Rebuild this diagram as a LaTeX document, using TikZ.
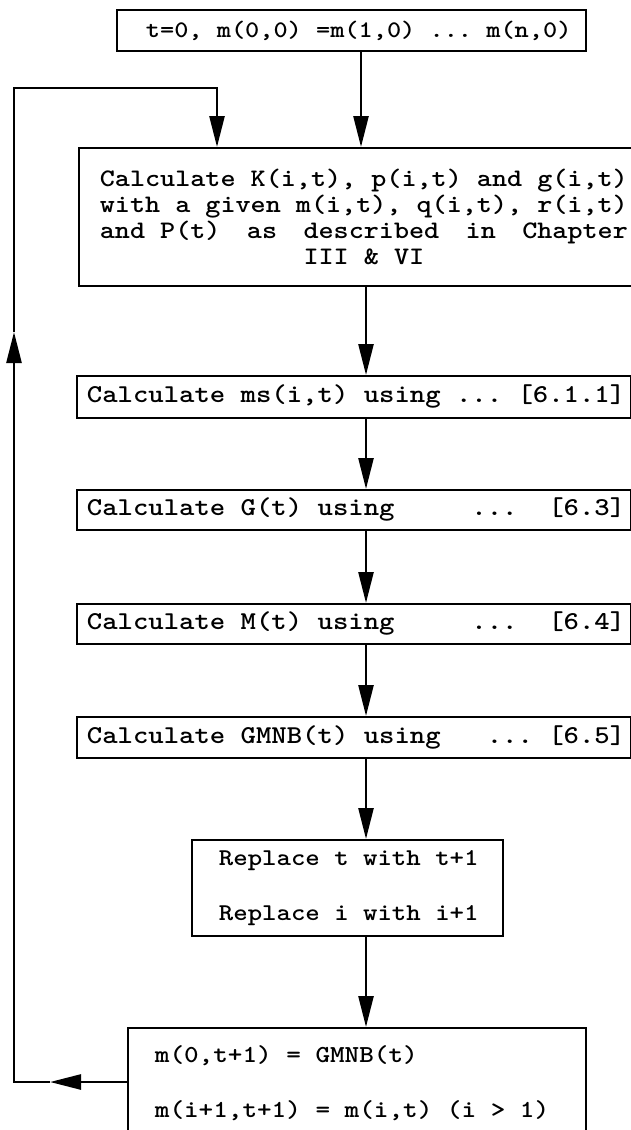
\documentclass[tikz,border=0pt]{standalone}
\usepackage{fontspec}
\newfontfamily\twfont{lmmonolt10-bold}[Extension=.otf,FakeStretch=1.14]
\usetikzlibrary{arrows.meta}
\newcommand\boxline[3]{\makebox[#1][l]{\hspace*{#2}#3}}
\begin{document}
\begin{tikzpicture}[x=1pt,y=-1pt,
  box/.style={draw,line width=1.8pt,inner sep=0pt,anchor=north west,align=left},
  tt/.style={font=\twfont\frenchspacing\fontsize{#1}{#1}\selectfont},
  conn/.style={line width=2.6pt,line join=miter},
  arr/.style={conn,-{Triangle[length=31pt,width=15pt]}}]
\useasboundingbox (0,0) rectangle (631,1130);
% boxes
\node[box,tt=23.7,minimum height=41pt] (init) at (116,9)
 {\boxline{469pt}{29pt}{t=0, m(0,0) =m(1,0) ... m(n,0)}};
\node[box,tt=25.2,minimum height=138pt] (calc) at (78,147)
 {\boxline{563pt}{21pt}{Calculate K(i,t), p(i,t) and g(i,t)}\\[0.8pt]
  \boxline{563pt}{21pt}{with a given m(i,t), q(i,t), r(i,t)}\\[0.8pt]
  \boxline{563pt}{21pt}{\makebox[528pt][l]{and P(t)\hfill as\hfill described\hfill in\hfill Chapter}}\\[0.8pt]
  \boxline{563pt}{21pt}{\makebox[528pt][c]{III \& VI}}};
\node[box,tt=25.7,minimum height=42pt] (ms) at (76,375)
 {\boxline{554pt}{10pt}{Calculate ms(i,t) using ... [6.1.1]}};
\node[box,tt=25.7,minimum height=40pt] (gt) at (76,489)
 {\boxline{554pt}{10pt}{Calculate G(t) using~~~~~...~~[6.3]}};
\node[box,tt=25.7,minimum height=40pt] (mt) at (76,603)
 {\boxline{554pt}{10pt}{Calculate M(t) using~~~~~...~~[6.4]}};
\node[box,tt=25.7,minimum height=41pt] (gm) at (76,716)
 {\boxline{554pt}{10pt}{Calculate GMNB(t) using~~~...~[6.5]}};
\node[box,tt=24.1,minimum height=96pt] (rep) at (191,839)
 {\boxline{311pt}{27pt}{Replace t with t+1}\\[30.9pt]
  \boxline{311pt}{27pt}{Replace i with i+1}};
\node[box,tt=24.4,minimum height=111pt] (upd) at (127,1027)
 {\boxline{458pt}{27pt}{m(0,t+1) = GMNB(t)}\\[30.6pt]
  \boxline{458pt}{27pt}{m(i+1,t+1) = m(i,t) (i > 1)}};
% main flow
\coordinate (ax) at (366,0);
\coordinate (ay) at (361,0);
\draw[arr] (ay |- init.south) -- (ay |- calc.north);
\draw[arr] (ax |- calc.south) -- (ax |- ms.north);
\draw[arr] (ax |- ms.south) -- (ax |- gt.north);
\draw[arr] (ax |- gt.south) -- (ax |- mt.north);
\draw[arr] (ax |- mt.south) -- (ax |- gm.north);
\draw[arr] (ax |- gm.south) -- (ax |- rep.north);
\draw[arr] (ax |- rep.south) -- (ax |- upd.north);
% loop back
\coordinate (tipA) at (50,1082);
\coordinate (c1) at (14,1082);
\coordinate (tipB) at (14,332);
\coordinate (c2) at (14,88);
\coordinate (c3) at (217,88);
\draw[arr] (upd.west |- tipA) -- (tipA);
\draw[arr] (tipA) -- (c1) -- (tipB);
\draw[arr] (tipB) -- (c2) -- (c3) -- (c3 |- calc.north);
\end{tikzpicture}
\end{document}
